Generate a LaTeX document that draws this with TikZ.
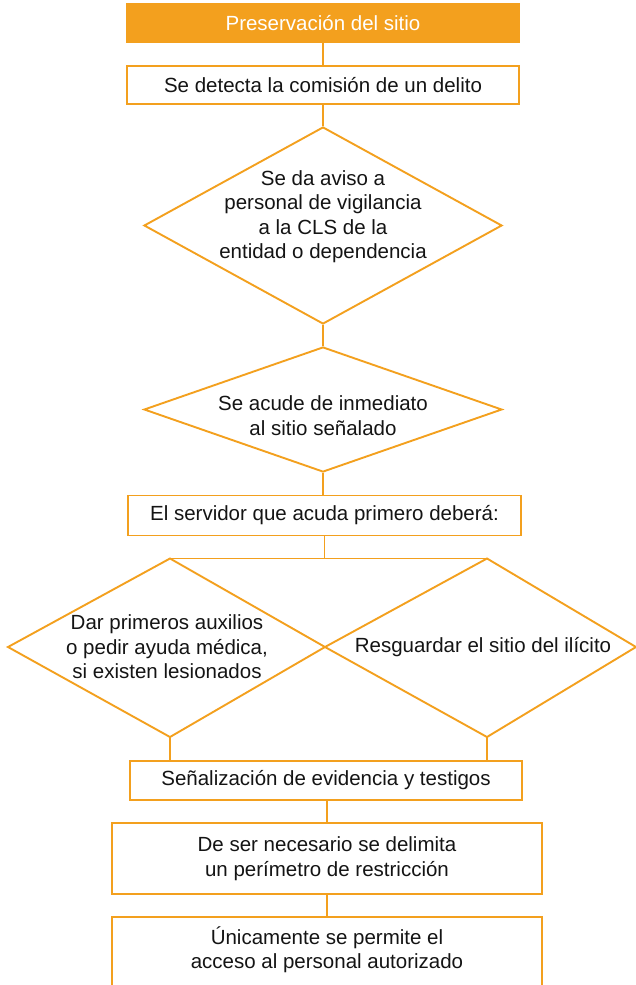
\documentclass[tikz,border=0pt]{standalone}
\usepackage{fontspec}
\setmainfont{Liberation Sans}
\usetikzlibrary{shapes.geometric}
\definecolor{org}{RGB}{243,160,30}
\definecolor{ink}{RGB}{20,20,20}
\begin{document}
\begin{tikzpicture}[x=1pt,y=-1pt,
  txt/.style={font=\fontsize{20.5}{24.5}\selectfont, align=center, inner sep=0pt, text=ink},
  box/.style={draw=org, line width=1.9pt, rectangle, inner sep=0pt, txt},
  dia/.style={draw=org, line width=1.9pt, diamond, inner sep=0pt, minimum width=358pt},
  conn/.style={draw=org, line width=1.9pt},
]
\useasboundingbox (0,0) rectangle (636,985);
\clip (0,0) rectangle (636,985);

\node[box, fill=org, text=white, minimum width=392pt, minimum height=38pt] (title) at (323,23) {Preservación del sitio};
\node[box, minimum width=392pt, minimum height=38pt] (detect) at (323,85) {Se detecta la comisión de un delito};

\node[dia, minimum height=197pt] (d1) at (323,225.5) {};
\node[txt] (d1t) at (323,216.5) {Se da aviso a\\personal de vigilancia\\a la CLS de la\\entidad o dependencia};

\node[dia, minimum height=125pt] (d2) at (323,409.5) {};
\node[txt] (d2t) at (323,415.5) {Se acude de inmediato\\al sitio señalado};

\node[box, minimum width=393pt, minimum height=40pt] (serv) at (324.5,515.5) {El servidor que acuda primero deberá:};

\coordinate (lt) at (170,558.5);
\coordinate (ll) at (8,647);
\coordinate (lb) at (170,737);
\coordinate (mid) at (325,647);
\coordinate (rt) at (487,558.5);
\coordinate (rr) at (636,647);
\coordinate (rb) at (487,737);
\draw[conn] (lt) -- (mid) -- (lb) -- (ll) -- cycle;
\draw[conn] (rt) -- (rr) -- (rb) -- (mid) -- cycle;
\node[txt] (ltext) at (167,647) {Dar primeros auxilios\\o pedir ayuda médica,\\si existen lesionados};
\node[txt] (rtext) at (483,647) {Resguardar el sitio del ilícito};

\node[box, minimum width=392pt, minimum height=39pt] (senal) at (326,780.5) {Señalización de evidencia y testigos};
\node[box, minimum width=430pt, minimum height=71pt] (deser) at (327,858.5) {De ser necesario se delimita\\un perímetro de restricción};
\node[box, minimum width=430pt, minimum height=83pt] (unic) at (327,958.5) {};
\node[txt] (unict) at (327,949.5) {Únicamente se permite el\\acceso al personal autorizado};

\draw[conn] (title.south) -- (detect.north);
\draw[conn] (detect.south) -- (d1.north);
\draw[conn] (d1.south) -- (d2.north);
\draw[conn] (d2.south) -- (d2.south |- serv.north);
\draw[conn] (serv.south) -- (serv.south |- lt);
\draw[conn] (lt) -- (rt);
\draw[conn] (lb) -- (lb |- senal.north);
\draw[conn] (rb) -- (rb |- senal.north);
\draw[conn] (deser.north |- senal.south) -- (deser.north);
\draw[conn] (deser.south) -- (unic.north);
\end{tikzpicture}
\end{document}
